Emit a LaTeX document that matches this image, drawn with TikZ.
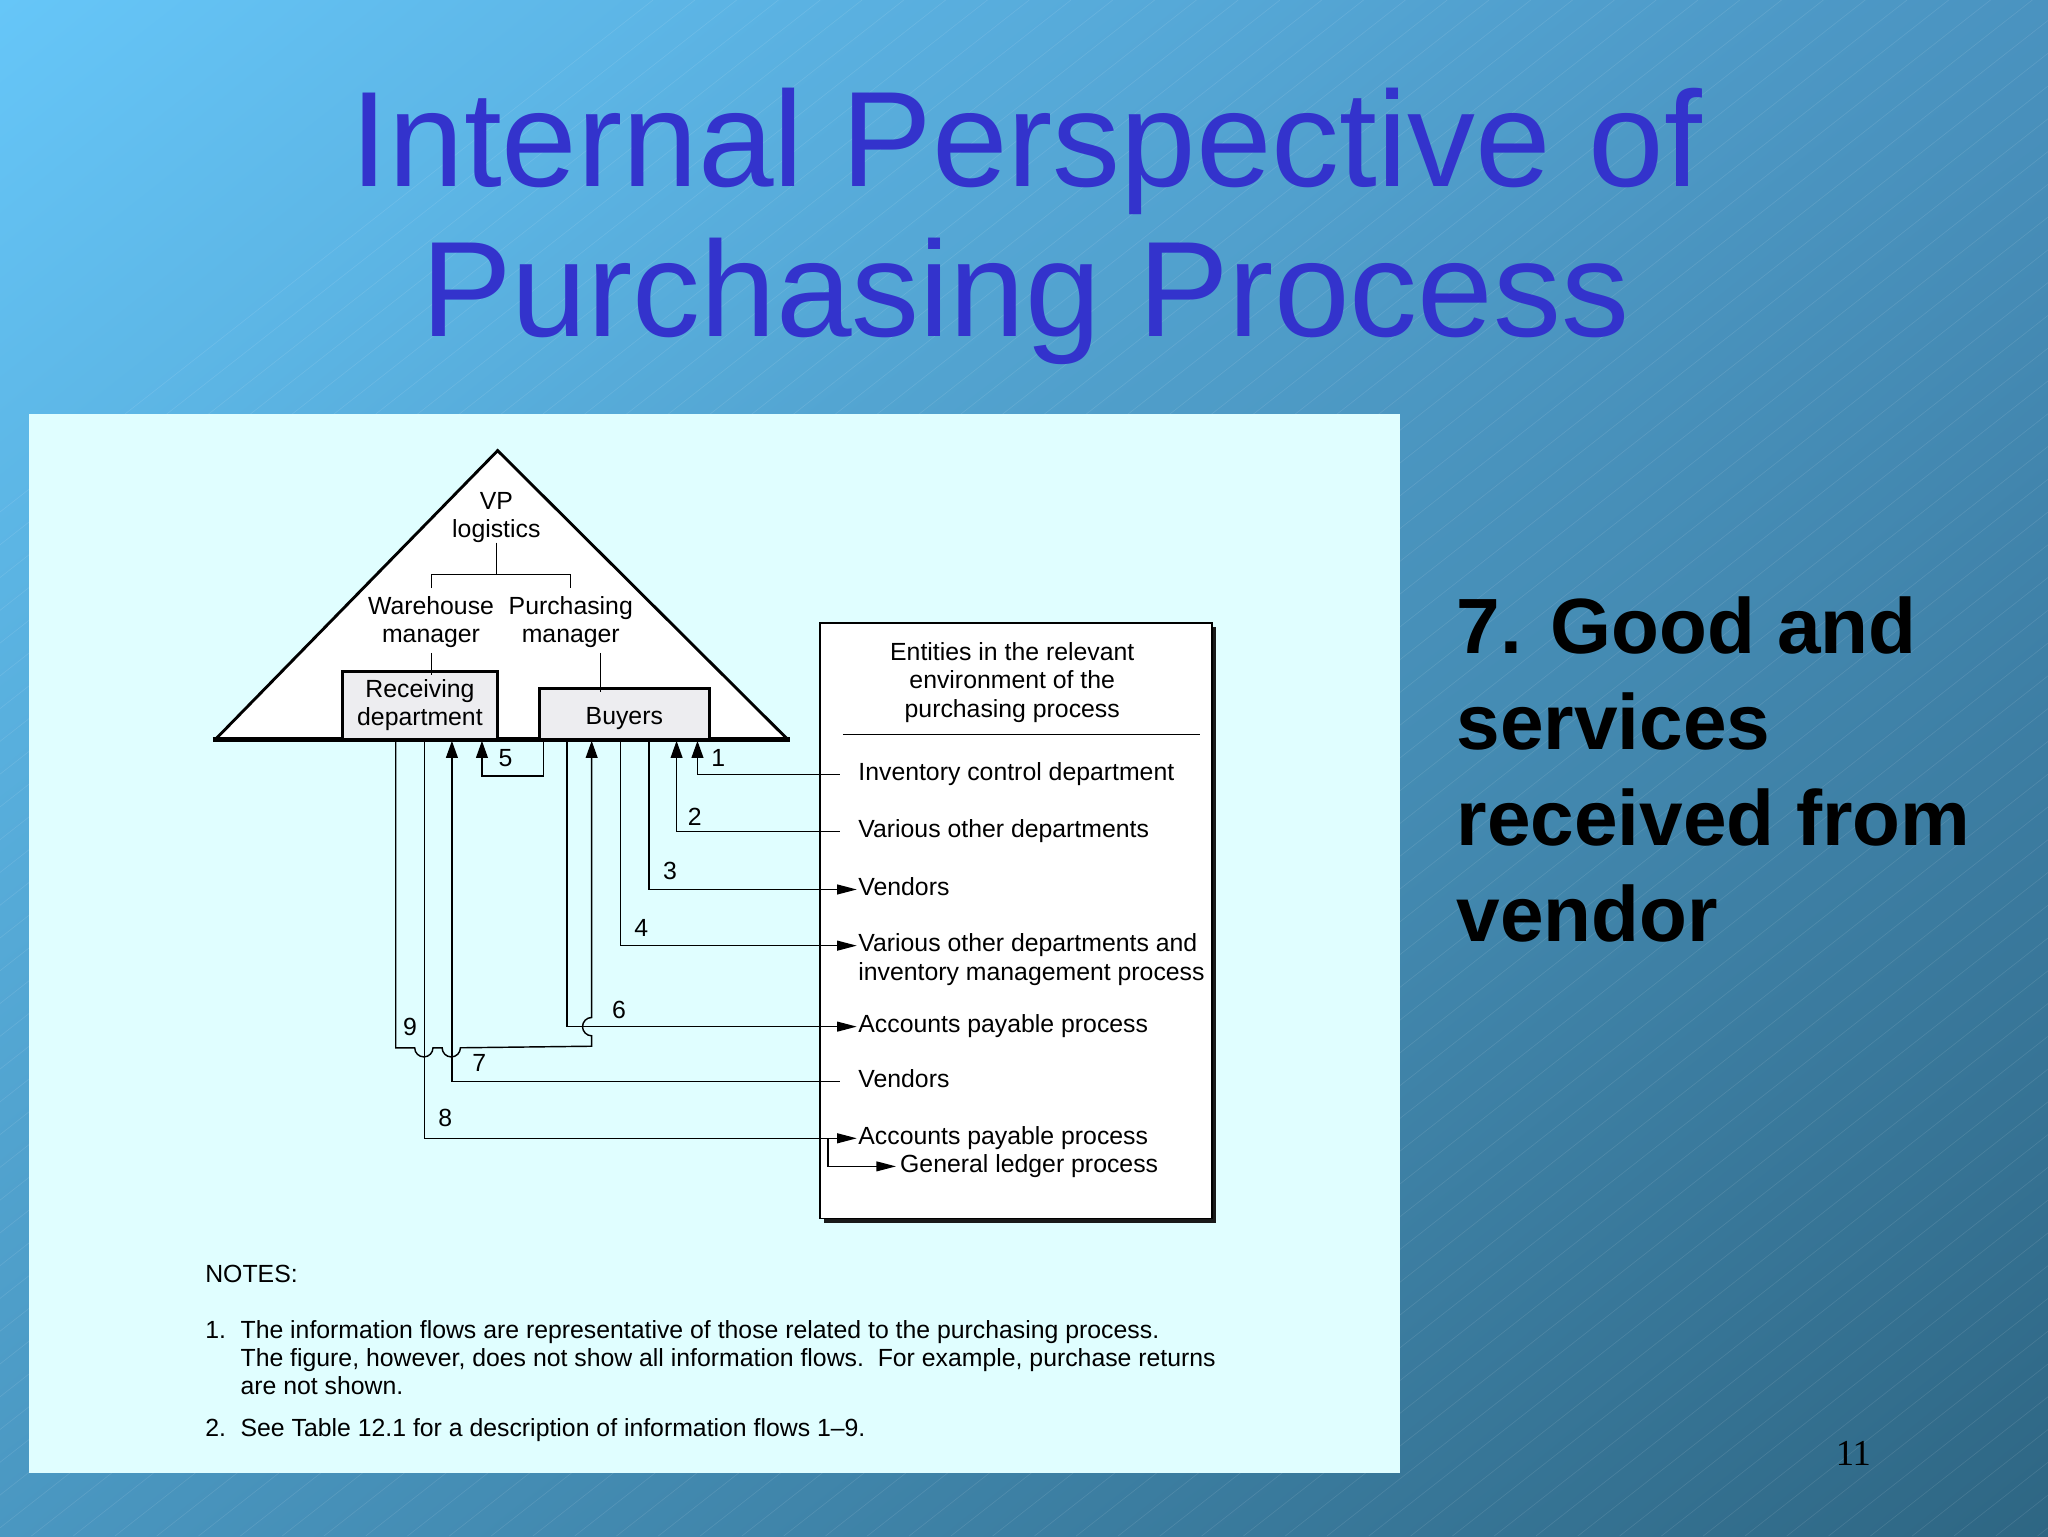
\documentclass[tikz,border=0pt]{standalone}
\usepackage{fontspec}
\setmainfont{Liberation Sans}
\newfontfamily\pagefont{Liberation Serif}
\usetikzlibrary{positioning,arrows.meta,calc,shadows,shadings}
\definecolor{bgtl}{HTML}{66C6F8}
\definecolor{bgtr}{HTML}{4A93C0}
\definecolor{bgbl}{HTML}{4A97C1}
\definecolor{bgbr}{HTML}{2E6683}
\definecolor{titleblue}{HTML}{3333CC}
\definecolor{panel}{HTML}{E0FEFF}
\definecolor{boxgray}{HTML}{EDEDF0}

\tikzset{
  txt/.style={font=\fontsize{19}{21.5}\selectfont, inner sep=0pt},
  row/.style={txt, anchor=west, text height=13.7pt, text depth=4pt},
  dept/.style={draw, line width=2.4pt, fill=boxgray, inner sep=0pt, align=center,
    font=\fontsize{19}{21.5}\selectfont},
  flow/.style={line width=1.1pt},
  tobox/.style={flow, -{Triangle[length=13pt,width=9pt]}},
  toent/.style={flow, -{Triangle[length=15pt,width=7.5pt]}},
  num/.style={txt},
  point/.style={font=\bfseries\fontsize{60}{73.5}\selectfont, anchor=base west, inner sep=0pt},
}

\begin{document}
\begin{tikzpicture}[x=1pt,y=-1pt]
\useasboundingbox (0,0) rectangle (1568,1176);
% slide background
\shade[upper left=bgtl,upper right=bgtr,lower left=bgbl,lower right=bgbr] (0,0) rectangle (1568,1176);
\begin{scope}
\clip (0,0) rectangle (1568,1176);
\foreach \i in {-1000,-968,...,1568}
  \draw[white,opacity=0.1,line width=0.5pt] (\i,1176) -- ++(1500,-1176);
\end{scope}

% title
\node[titleblue, font=\fontsize{104}{115}\selectfont, anchor=base, inner sep=0pt] (title1) at (786,143) {Internal Perspective of};
\node[titleblue, font=\fontsize{104}{115}\selectfont, anchor=base, inner sep=0pt] (title2) at (785,258) {Purchasing Process};

% figure panel
\fill[panel] (22,317) rectangle (1072,1128);

% organisation triangle
\filldraw[fill=white, line width=2.2pt, line join=miter] (165,566) -- (381,345) -- (603,566);
\draw[line width=3.5pt] (163,566) -- (605,566);

\node[txt, align=center] (vp) at (380,396) {VP\\logistics};
\node[txt, align=center] (wm) at (330,476) {Warehouse\\manager};
\node[txt, align=center] (pm) at (437,476) {Purchasing\\manager};
\node[dept, minimum width=119pt, minimum height=52pt] (rec) at (321.5,540) {Receiving\\department};
\node[dept, minimum width=130pt, minimum height=39pt, text height=17pt, text depth=0pt] (buy) at (478,546.5) {Buyers};

\draw[line width=0.8pt] (vp.south) -- (vp.south |- 0,440) coordinate (jn);
\draw[line width=0.8pt] ([yshift=6pt]wm.north) |- (jn) -| ([yshift=6pt]pm.north);
\draw[line width=0.8pt] ([yshift=-4pt]wm.south) -- ([yshift=-4pt]wm.south |- rec.north);
\draw[line width=0.8pt] ([xshift=23pt,yshift=-4pt]pm.south) -- ([xshift=23pt,yshift=-4pt]pm.south |- buy.north);

% entities box
\node[draw, line width=1.2pt, fill=white, minimum width=300pt, minimum height=456pt, inner sep=0pt,
  drop shadow={shadow xshift=3pt, shadow yshift=-3pt, fill=black!90, opacity=1}] (ent) at (778,705) {};
\node[txt, align=center, anchor=north] (head) at (775,492) {Entities in the relevant\\environment of the\\purchasing process};
\draw[line width=1pt] ($(ent.north west)+(18,86)$) -- ($(ent.north east)+(-10,86)$);

\node[row] (r1) at (657,593) {Inventory control department};
\node[row] (r2) at (657,636.5) {Various other departments};
\node[row] (r3) at (657,681) {Vendors};
\node[row] (r4) at (657,724) {Various other departments and};
\node[row] (r4b) at (657,745.5) {inventory management process};
\node[row] (r5) at (657,786) {Accounts payable process};
\node[row] (r6) at (657,828) {Vendors};
\node[row] (r7) at (657,871.5) {Accounts payable process};
\node[row] (r8) at (689,893) {General ledger process};

% information flows
\draw[tobox] ([xshift=-14pt]r1.west) -| ([xshift=56pt]buy.south);
\draw[tobox] ([xshift=-14pt]r2.west) -| ([xshift=40pt]buy.south);
\draw[toent] ([xshift=19pt]buy.south) |- ([xshift=-1pt]r3.west);
\draw[toent] ([xshift=-3pt]buy.south) |- ([xshift=-1pt]r4.west);
\draw[tobox] ([xshift=-62pt]buy.south) -- ++(0,27) -| ([xshift=47.5pt]rec.south);
\draw[toent] ([xshift=-44pt]buy.south) |- ([xshift=-1pt]r5.west);
\draw[tobox] ([xshift=-14pt]r6.west) -| ([xshift=24.5pt]rec.south);
\draw[toent] ([xshift=3.5pt]rec.south) |- ([xshift=-1pt]r7.west);
\draw[toent] ([xshift=-23pt]r7.west) |- ([xshift=-3pt]r8.west);
\draw[tobox] ([xshift=-18.5pt]rec.south) -- ++(0,235) -- ++(14.5,0)
  arc[start angle=180,end angle=360,radius=7pt] -- ++(7,0)
  arc[start angle=180,end angle=360,radius=7pt] -- ([xshift=-25pt]buy.south |- 0,801) -- ++(0,-8)
  arc[start angle=270,end angle=90,radius=7pt] -- ([xshift=-25pt]buy.south);

\node[num] (n1) at (550,580) {1};
\node[num] (n2) at (532,625) {2};
\node[num] (n3) at (513,667) {3};
\node[num] (n4) at (491,710.5) {4};
\node[num] (n5) at (387,580.5) {5};
\node[num] (n6) at (474,773) {6};
\node[num] (n7) at (367,814) {7};
\node[num] (n8) at (341,856) {8};
\node[num] (n9) at (314,786) {9};

% notes
\node[txt, anchor=base west] (notes) at (157,982) {NOTES:};
\node[txt, anchor=base west] (k1) at (157,1025) {1.};
\node[txt, anchor=base west] (k1a) at (184,1025) {The information flows are representative of those related to the purchasing process.};
\node[txt, anchor=base west] (k1b) at (184,1046.5) {The figure, however, does not show all information flows.\ \ For example, purchase returns};
\node[txt, anchor=base west] (k1c) at (184,1068) {are not shown.};
\node[txt, anchor=base west] (k2) at (157,1100) {2.};
\node[txt, anchor=base west] (k2a) at (184,1100) {See Table 12.1 for a description of information flows 1--9.};

% slide text
\node[point] (g1) at (1115,500) {7. Good and};
\node[point] (g2) at (1115,573.5) {services};
\node[point] (g3) at (1115,647) {received from};
\node[point] (g4) at (1115,720.5) {vendor};

\node[font=\pagefont\fontsize{28}{30}\selectfont, anchor=base, inner sep=0pt] (pg) at (1419,1122) {11};
\end{tikzpicture}
\end{document}
